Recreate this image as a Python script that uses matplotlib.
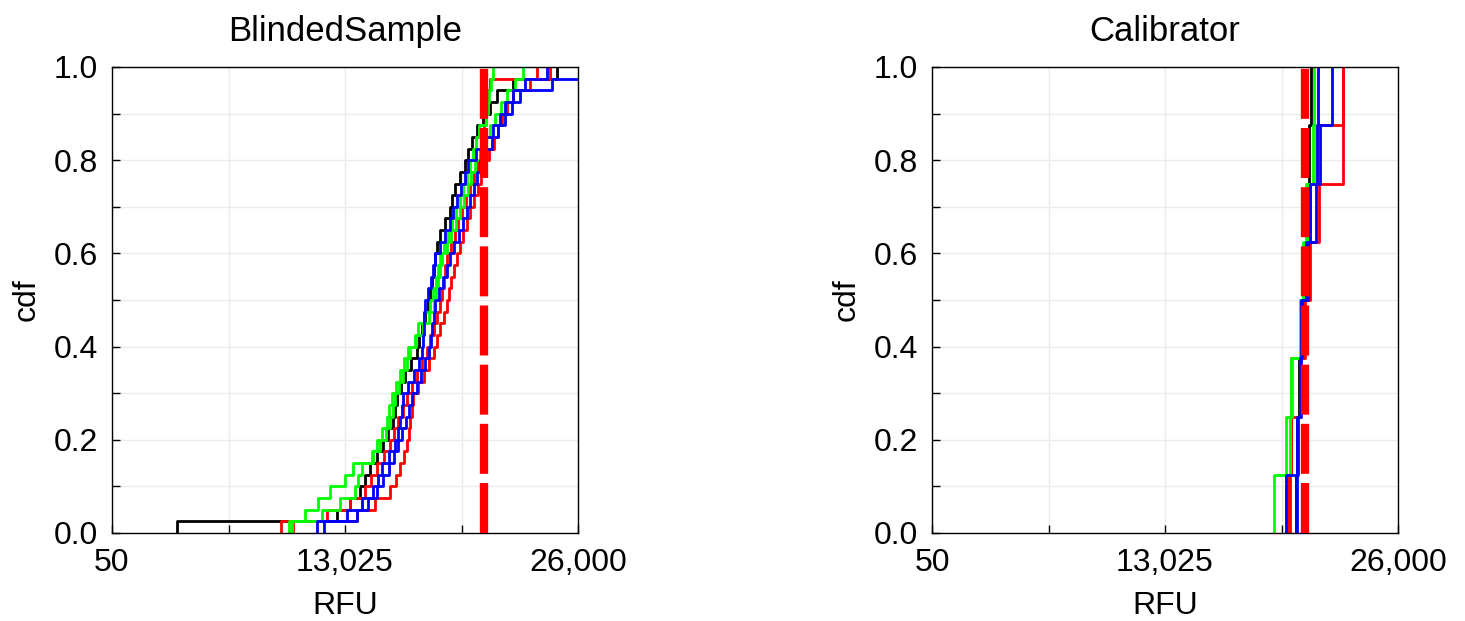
import numpy as np
from matplotlib import pyplot as plt
from matplotlib.ticker import FixedLocator, MultipleLocator

plt.rcParams['font.family'] = ['Liberation Sans', 'DejaVu Sans']

# RFU values (sorted samples, one list per curve)
bs_black = [3670, 12580, 13304, 13861, 14140, 14419, 14809, 15143, 15422, 15700,
            15812, 15923, 16146, 16369, 16703, 17037, 17149, 17316, 17483, 17650,
            17761, 17873, 17984, 18040, 18151, 18318, 18597, 18876, 18987, 19154,
            19432, 19711, 19878, 20101, 20379, 20713, 21103, 21493, 22384, 24835]
bs_red_a = [9461, 12023, 13304, 14140, 14474, 14809, 15199, 15533, 15756, 15979,
            16257, 16480, 16759, 17037, 17316, 17594, 17761, 17984, 18151, 18318,
            18430, 18541, 18597, 18708, 18931, 19154, 19321, 19544, 19767, 19989,
            20212, 20435, 20546, 20658, 20769, 20881, 20936, 20992, 21103, 23721]
bs_red_b = [10129, 13694, 14697, 15533, 15867, 16090, 16313, 16480, 16592, 16647,
            16759, 16815, 17093, 17427, 17706, 17984, 18151, 18318, 18541, 18708,
            18820, 18931, 19099, 19265, 19432, 19599, 19822, 19989, 20212, 20435,
            20602, 20825, 21048, 21326, 21549, 21771, 22050, 22384, 23331, 24445]
bs_green_a = [9906, 10797, 11521, 12190, 13025, 13471, 14586, 14809, 15087, 15366,
              15477, 15644, 15867, 16090, 16313, 16536, 16926, 17093, 17427, 17761,
              17928, 18095, 18207, 18318, 18541, 18764, 18987, 19210, 19432, 19599,
              19822, 19989, 20156, 20323, 20491, 20881, 20990, 21070, 21159, 21240]
bs_green_b = [10073, 11744, 12747, 13583, 13750, 13973, 14530, 14976, 15310, 15533,
              15700, 15812, 16035, 16257, 16480, 16647, 16982, 17372, 17706, 17984,
              18095, 18207, 18318, 18430, 18708, 18931, 19210, 19432, 19655, 19878,
              20045, 20268, 20546, 20825, 21103, 21382, 21716, 22050, 22495, 22941]
bs_blue_a = [11466, 13137, 13973, 14586, 14864, 15087, 15477, 15812, 15979, 16090,
             16202, 16257, 16536, 16870, 17149, 17316, 17372, 17427, 17440, 17483,
             17650, 17817, 17928, 18040, 18318, 18597, 18876, 19043, 19265, 19488,
             19711, 19878, 20323, 20825, 21271, 21660, 21938, 22384, 23052, 24278]
bs_blue_b = [11856, 13694, 14307, 14809, 15143, 15477, 15756, 15979, 16202, 16425,
             16592, 16759, 17037, 17260, 17483, 17706, 17817, 17873, 17984, 18040,
             18263, 18486, 18708, 18876, 19099, 19377, 19599, 19822, 19989, 20212,
             20379, 20546, 20881, 21215, 21549, 21938, 22328, 22774, 24556, 26800]

cal_black = [20320, 20375, 20487, 20598, 20821, 20932, 21043, 21155]
cal_red_a = [19874, 20041, 20041, 20821, 21099, 21600, 22937, 22937]
cal_red_b = [19986, 20041, 20542, 20765, 20988, 21099, 21489, 22937]
cal_green_a = [19095, 19763, 20041, 20542, 20709, 20876, 21266, 21322]
cal_green_b = [19763, 19986, 20097, 20654, 20821, 20988, 21433, 21545]
cal_blue_a = [19763, 20375, 20598, 20654, 20876, 21099, 21656, 22324]
cal_blue_b = [20375, 20431, 20542, 20598, 20988, 21433, 21489, 21545]

bs_cutoff = 20780
cal_cutoff = 20800

x_ticks = [50, 13025, 26000]
x_labels = ['50', '13,025', '26,000']

panels = [
    ('BlindedSample', [(bs_black, 'black'), (bs_red_a, 'red'), (bs_red_b, 'red'),
                       (bs_green_a, '#00ff00'), (bs_green_b, '#00ff00'),
                       (bs_blue_a, 'blue'), (bs_blue_b, 'blue')], bs_cutoff),
    ('Calibrator', [(cal_black, 'black'), (cal_red_a, 'red'), (cal_red_b, 'red'),
                    (cal_green_a, '#00ff00'), (cal_green_b, '#00ff00'),
                    (cal_blue_a, 'blue'), (cal_blue_b, 'blue')], cal_cutoff),
]


def ecdf(vals):
    v = np.sort(np.array(vals, dtype=float))
    n = len(v)
    xs = np.concatenate([[v[0]], v])
    ys = np.concatenate([[0.0], np.arange(1, n + 1) / n])
    return xs, ys


fig = plt.figure(figsize=(14.65, 6.21), dpi=100)
lefts = [112 / 1465, 932 / 1465]

for (title, curves, cut), left in zip(panels, lefts):
    ax = fig.add_axes([left, 88 / 621, 466 / 1465, 466 / 621])
    for vals, col in curves:
        xs, ys = ecdf(vals)
        ax.step(xs, ys, where='post', color=col, lw=2)
    ax.axvline(cut, color='red', lw=6, dashes=(6, 1.1), zorder=5)

    ax.set_xlim(50, 26000)
    ax.set_ylim(0, 1)
    ax.xaxis.set_major_locator(FixedLocator(x_ticks))
    ax.xaxis.set_minor_locator(FixedLocator([6537.5, 19512.5]))
    ax.set_xticklabels(x_labels)
    ax.yaxis.set_major_locator(MultipleLocator(0.2))
    ax.yaxis.set_minor_locator(MultipleLocator(0.1))
    ax.grid(True, which='both', color='#ebebeb', lw=1)
    ax.set_axisbelow(True)
    ax.tick_params(which='both', direction='in', top=False, right=False,
                   length=6, width=1, labelsize=23)
    ax.tick_params(axis='x', pad=11)
    ax.tick_params(axis='y', pad=10)
    for s in ax.spines.values():
        s.set_linewidth(1)

    ax.set_title(title, fontsize=25, pad=19)
    ax.set_xlabel('RFU', fontsize=23, labelpad=9)
    ax.set_ylabel('cdf', fontsize=23, labelpad=9)

plt.savefig('out.png', dpi=100)
